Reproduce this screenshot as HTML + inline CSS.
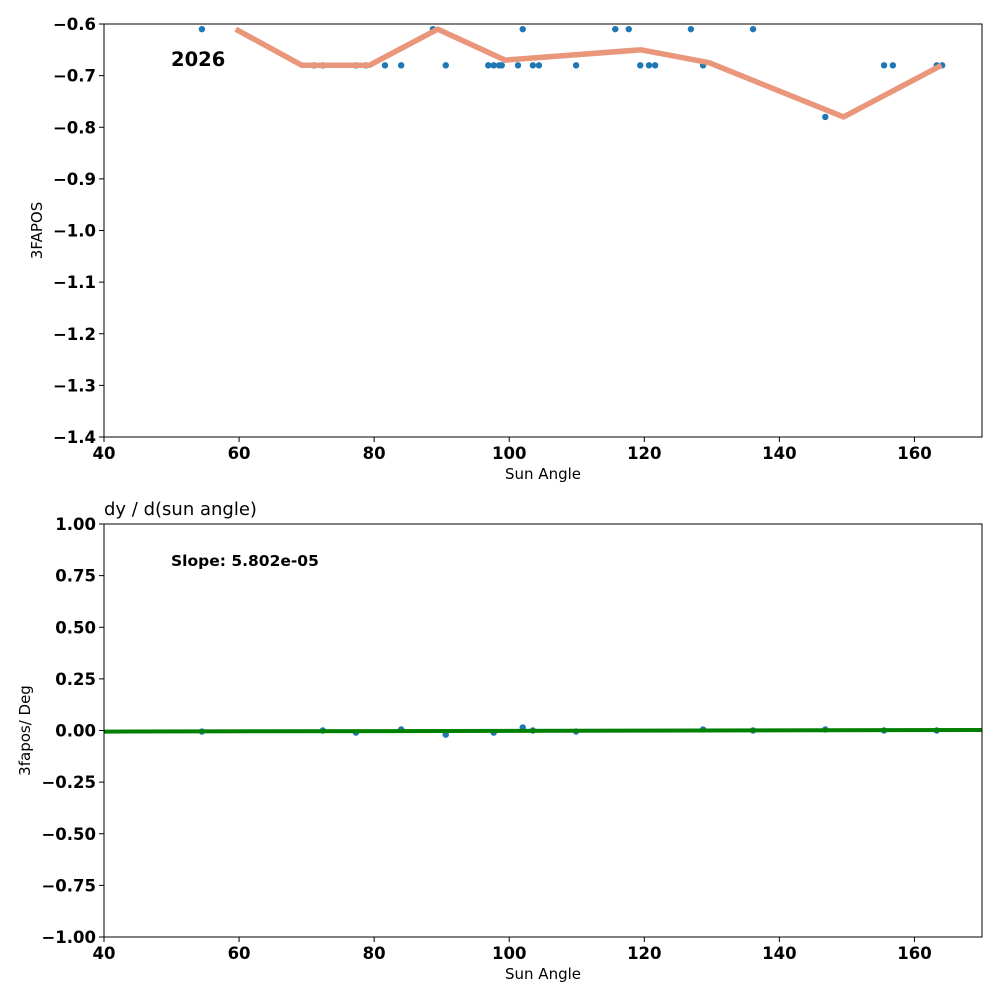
<!DOCTYPE html>
<html><head><meta charset="utf-8"><style>
body{margin:0;background:#fff;}
svg{display:block;font-family:"DejaVu Sans","Liberation Sans",sans-serif;}
</style></head><body>
<svg id="chart" width="1000" height="1000" viewBox="0 0 1000 1000">
<g id="top"></g>
<g id="bot"></g>
</svg>
<script>
const topX=[54.5,88.7,102.0,115.7,117.7,126.9,136.1,71.1,72.4,77.3,78.8,81.6,84.0,90.6,96.9,97.7,98.5,98.9,101.3,103.5,104.4,109.9,119.4,120.7,121.6,128.7,155.5,156.8,163.3,164.1,146.8];
const topY=[-0.61,-0.61,-0.61,-0.61,-0.61,-0.61,-0.61,-0.68,-0.68,-0.68,-0.68,-0.68,-0.68,-0.68,-0.68,-0.68,-0.68,-0.68,-0.68,-0.68,-0.68,-0.68,-0.68,-0.68,-0.68,-0.68,-0.68,-0.68,-0.68,-0.68,-0.78];
const smoothX=[59.5,69.3,79.3,89.4,99.4,119.5,129.6,149.5,164];
const smoothY=[-0.61,-0.68,-0.68,-0.61,-0.67,-0.65,-0.675,-0.78,-0.68];
const botX=[54.5,72.4,77.3,84.0,90.6,97.7,102.0,103.5,109.9,128.7,136.1,146.8,155.5,163.3];
const botY=[-0.005,0.0,-0.01,0.005,-0.02,-0.01,0.015,0.0,-0.005,0.005,0.0,0.005,0.0,0.0];
const slope=5.802e-05;
const intercept=-0.0075;
const xTicks=[40,60,80,100,120,140,160];
const topYTicks=[-0.6,-0.7,-0.8,-0.9,-1.0,-1.1,-1.2,-1.3,-1.4];
const botYTicks=[1.0,0.75,0.5,0.25,0.0,-0.25,-0.5,-0.75,-1.0];
const NS='http://www.w3.org/2000/svg';
function mk(p,t,a,txt){const e=document.createElementNS(NS,t);for(const k in a)e.setAttribute(k,a[k]);if(txt!==undefined)e.textContent=txt;p.appendChild(e);return e;}
const L=104,R=982;
const sx=v=>L+(v-40)/(170-40)*(R-L);
function fmt(v,d){const s=v.toFixed(d);return s.startsWith('-')?'\u2212'+s.slice(1):s;}
function panel(g,T,B,y0,y1,yt,dec,ylab){
  const sy=v=>B-(v-y0)/(y1-y0)*(B-T);
  xTicks.forEach(t=>{
    const tk=mk(g,'line',{x1:sx(t),x2:sx(t),y1:B,y2:B+5,stroke:'#000','stroke-width':1});
    
    
    const tl=mk(g,'text',{x:sx(t),y:B+22,'text-anchor':'middle','font-size':16.5,'font-weight':'bold'},String(t));
    
    
  });
  yt.forEach(t=>{
    const tk=mk(g,'line',{x1:L-5,x2:L,y1:sy(t),y2:sy(t),stroke:'#000','stroke-width':1});
    
    
    const tl=mk(g,'text',{x:L-8,y:sy(t)+6,'text-anchor':'end','font-size':16.5,'font-weight':'bold'},fmt(t,dec));
    
    
  });
  const xl=mk(g,'text',{x:(L+R)/2,y:B+42,'text-anchor':'middle','font-size':15},'Sun Angle');
  
  
  const yx=ylab[1];
  const yl=mk(g,'text',{x:yx,y:(T+B)/2,'text-anchor':'middle','font-size':15,transform:`rotate(-90 ${yx} ${(T+B)/2})`},ylab[0]);
  
  
  return sy;
}
// top
const gt=document.getElementById('top');
const syT=panel(gt,24,437,-1.4,-0.6,topYTicks,1,['3FAPOS',42]);
const clipT=mk(gt,'clipPath',{id:'ct'});mk(clipT,'rect',{x:L,y:24,width:R-L,height:413});
const gtd=mk(gt,'g',{'clip-path':'url(#ct)'});
topX.forEach((x,i)=>{
  const c=mk(gtd,'circle',{cx:sx(x),cy:syT(topY[i]),r:3.2,fill:'#1f77b4'});
  
  
});
const pl=mk(gtd,'polyline',{points:smoothX.map((x,i)=>sx(x)+','+syT(smoothY[i])).join(' '),fill:'none',stroke:'#e9967a','stroke-width':5.5,'stroke-linejoin':'round'});


const f1=mk(gt,'rect',{x:L,y:24,width:R-L,height:413,fill:'none',stroke:'#000','stroke-width':1});


const yr=mk(gt,'text',{x:171,y:66,'font-size':19.5,'font-weight':'bold'},'2026');


// bottom
const gb=document.getElementById('bot');
const syB=panel(gb,524,937,-1,1,botYTicks,2,['3fapos/ Deg',30]);
const ttl=mk(gb,'text',{x:104,y:515,'font-size':18},'dy / d(sun angle)');


botX.forEach((x,i)=>{
  const c=mk(gb,'circle',{cx:sx(x),cy:syB(botY[i]),r:3.2,fill:'#1f77b4'});
  
  
});
const fl=mk(gb,'line',{x1:sx(40),x2:sx(170),y1:syB(intercept+slope*40),y2:syB(intercept+slope*170),stroke:'#008000','stroke-width':4});


const f2=mk(gb,'rect',{x:L,y:524,width:R-L,height:413,fill:'none',stroke:'#000','stroke-width':1});


const sl=mk(gb,'text',{x:171,y:566,'font-size':15.5,'font-weight':'bold'},'Slope: 5.802e-05');


</script>
</body></html>
